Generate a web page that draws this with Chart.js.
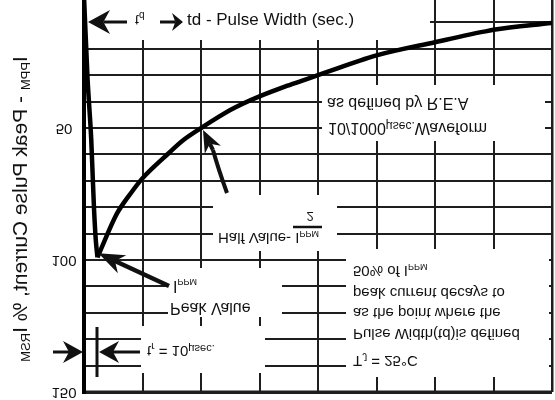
<!DOCTYPE html>
<html>
<head>
<meta charset="utf-8">
<script src="https://cdn.jsdelivr.net/npm/chart.js@4.4.1/dist/chart.umd.min.js"></script>
<style>
  body { margin: 0; background: #fff; }
  /* la figura de referencia está volteada verticalmente */
  #grafica { display: block; transform: scaleY(-1); }
</style>
</head>
<body>
<canvas id="grafica" width="555" height="400"></canvas>
<script>
// Onda 10/1000 µs: tiempo (ms) y corriente (% IRSM)
// subida hasta el pico y caída desde el pico (dos tramos para que el pico quede en punta)
const subidaT = [0, 0.03, 0.062, 0.085, 0.1, 0.115];
const subidaI = [0, 31, 54.5, 80, 92, 99];
const caidaT = [0.115, 0.28, 0.4, 0.5, 0.7, 0.85, 1.0, 1.25, 1.5, 1.75, 2.0, 2.5, 3.0, 3.5, 4.0];
const caidaI = [99, 82.5, 74.7, 69, 60.5, 54.5, 50, 43.2, 38, 33.8, 30, 22.5, 17.5, 12.8, 10.2];
const ticksX = [0, 0.5, 1, 1.5, 2, 2.5, 3, 3.5, 4];
const ticksY = [10, 20, 30, 40, 50, 60, 70, 80, 90, 100, 110, 120, 130, 140, 150];
const etiquetasY = [50, 100, 150];

const FUENTE = '"Liberation Sans", Arial, sans-serif';
const H = 400;

function medir(ctx, partes) {
  let w = 0;
  partes.forEach(([t, size]) => {
    ctx.font = size + "px " + FUENTE;
    w += ctx.measureText(t).width;
  });
  return w;
}

function texto(ctx, partes, x, y) {
  let cx = x;
  partes.forEach(([t, size, dy]) => {
    ctx.font = size + "px " + FUENTE;
    ctx.fillText(t, cx, y + (dy || 0));
    cx += ctx.measureText(t).width;
  });
}

function flecha(ctx, x1, y1, x2, y2, largo, medio, lw) {
  const a = Math.atan2(y2 - y1, x2 - x1);
  const c = Math.cos(a), s = Math.sin(a);
  const bx = x2 - largo * c, by = y2 - largo * s;
  const nx = x2 - largo * 0.7 * c, ny = y2 - largo * 0.7 * s;
  ctx.lineWidth = lw;
  ctx.beginPath(); ctx.moveTo(x1, y1); ctx.lineTo(nx, ny); ctx.stroke();
  ctx.beginPath();
  ctx.moveTo(x2, y2);
  ctx.lineTo(bx + medio * s, by - medio * c);
  ctx.lineTo(nx, ny);
  ctx.lineTo(bx - medio * s, by + medio * c);
  ctx.closePath(); ctx.fill();
}

const notas = {
  id: "notas",
  beforeDatasetsDraw(chart) {
    const ctx = chart.ctx;
    // fondos blancos de los textos (tapan la rejilla)
    const cajas = [
      [87, 430, 360, 400], [322, 545, 259, 315], [213, 337, 149, 205],
      [168, 282, 83, 132], [141, 265, 27, 74], [346, 549, 23, 151]
    ];
    ctx.save();
    ctx.fillStyle = "#fff";
    cajas.forEach(([x1, x2, y1, y2]) => ctx.fillRect(x1, y1, x2 - x1, y2 - y1));
    ctx.restore();
  },
  afterDraw(chart) {
    const ctx = chart.ctx;
    const sx = chart.scales.x, sy = chart.scales.y;
    ctx.save();
    ctx.fillStyle = "#111";
    ctx.strokeStyle = "#111";
    ctx.textBaseline = "middle";

    // etiquetas del eje Y
    ctx.textAlign = "center";
    ctx.font = "15px " + FUENTE;
    etiquetasY.forEach(v => ctx.fillText(String(v), 64, sy.getPixelForValue(v)));

    // título del eje Y
    ctx.textAlign = "left";
    const tituloY = [["I", 21], ["PPM", 13, 5], [" - Peak Pulse Current, % I", 21], ["RSM", 13, 5]];
    const wt = medir(ctx, tituloY);
    ctx.save();
    ctx.translate(21, 191);
    ctx.rotate(-Math.PI / 2);
    texto(ctx, tituloY, -wt / 2, 0);
    ctx.restore();

    // td - Pulse Width (sin voltear)
    ctx.save();
    ctx.translate(187, H - 20);
    ctx.scale(1, -1);
    texto(ctx, [["td - Pulse Width (sec.)", 17]], 0, 0);
    ctx.restore();
    flecha(ctx, 127, 378, 88, 378, 22, 12, 3);
    flecha(ctx, 160, 378, 183, 378, 11, 9, 3);
    texto(ctx, [["t", 14], ["d", 10, 4]], 135, 381);

    // 10/1000 µsec
    texto(ctx, [["10/1000", 16], ["µsec.", 12, 2], ["Waveform", 16]], 328, 273);
    texto(ctx, [["as defined by R.E.A", 16]], 327, 298);

    // valor medio
    texto(ctx, [["Half Value- I", 15], ["PPM", 9, 4]], 218, 163);
    ctx.lineWidth = 2.5;
    ctx.beginPath(); ctx.moveTo(293, 173); ctx.lineTo(322, 173); ctx.stroke();
    ctx.textAlign = "center";
    texto(ctx, [["2", 13]], 310, 184);
    ctx.textAlign = "left";
    const hx = sx.getPixelForValue(1) + 2, hy = sy.getPixelForValue(50) - 2;
    ctx.lineWidth = 4;
    ctx.beginPath(); ctx.moveTo(227, 207); ctx.quadraticCurveTo(218, 232, 213, 250); ctx.stroke();
    flecha(ctx, 213, 250, hx, hy, 22, 9, 4);

    // valor pico
    texto(ctx, [["Peak Value", 16]], 170, 93);
    texto(ctx, [["I", 16], ["PPM", 9, 4]], 173, 115);
    const px = sx.getPixelForValue(0.115) + 1, py = sy.getPixelForValue(99) + 4;
    flecha(ctx, 169, 114, px, py, 26, 10, 4.5);

    // tr = 10 µsec
    texto(ctx, [["t", 15], ["r", 10, 4], [" = 10", 15], ["µsec.", 11, 2]], 147, 50);
    flecha(ctx, 53, 48, 83, 48, 20, 11, 3);
    flecha(ctx, 140, 48, 99, 48, 20, 11, 3);
    ctx.lineWidth = 3;
    ctx.beginPath(); ctx.moveTo(97, 23); ctx.lineTo(97, 73); ctx.stroke();

    // notas de la derecha
    texto(ctx, [["T", 15], ["J", 10, 4], [" = 25°C", 15]], 353, 40);
    texto(ctx, [["Pulse Width(td)is defined", 15]], 353, 67);
    texto(ctx, [["as the point where the", 15]], 353, 88);
    texto(ctx, [["peak current decays to", 15]], 353, 108);
    texto(ctx, [["50% of I", 15], ["PPM", 9, 4]], 353, 130);

    ctx.restore();
  }
};

const tramo = (ts, is) => ({
  data: ts.map((t, i) => ({ x: t, y: is[i] })),
  borderColor: "#000",
  borderWidth: 4.5,
  pointRadius: 0,
  cubicInterpolationMode: "monotone",
  fill: false
});

const ctx = document.getElementById("grafica").getContext("2d");
new Chart(ctx, {
  type: "line",
  data: {
    datasets: [tramo(subidaT, subidaI), tramo(caidaT, caidaI)]
  },
  options: {
    responsive: false,
    animation: false,
    layout: { padding: { top: 8, right: 3, bottom: 0, left: 0 } },
    plugins: { legend: { display: false }, tooltip: { enabled: false } },
    scales: {
      x: {
        type: "linear", min: 0, max: 4,
        afterBuildTicks: s => { s.ticks = ticksX.map(v => ({ value: v })); },
        ticks: { display: false },
        grid: { color: "#1e1e1e", drawTicks: false, lineWidth: c => (c.tick && c.tick.value === 4 ? 2.5 : 2) },
        border: { display: false }
      },
      y: {
        min: 1.5, max: 150,
        afterBuildTicks: s => { s.ticks = ticksY.map(v => ({ value: v })); },
        afterFit: s => { s.width = 84; },
        ticks: { display: false },
        grid: { color: "#1e1e1e", drawTicks: false, lineWidth: c => (c.tick && c.tick.value === 150 ? 3.5 : 2) },
        border: { display: true, color: "#000", width: 4, z: 1 }
      }
    }
  },
  plugins: [notas]
});
</script>
</body>
</html>
